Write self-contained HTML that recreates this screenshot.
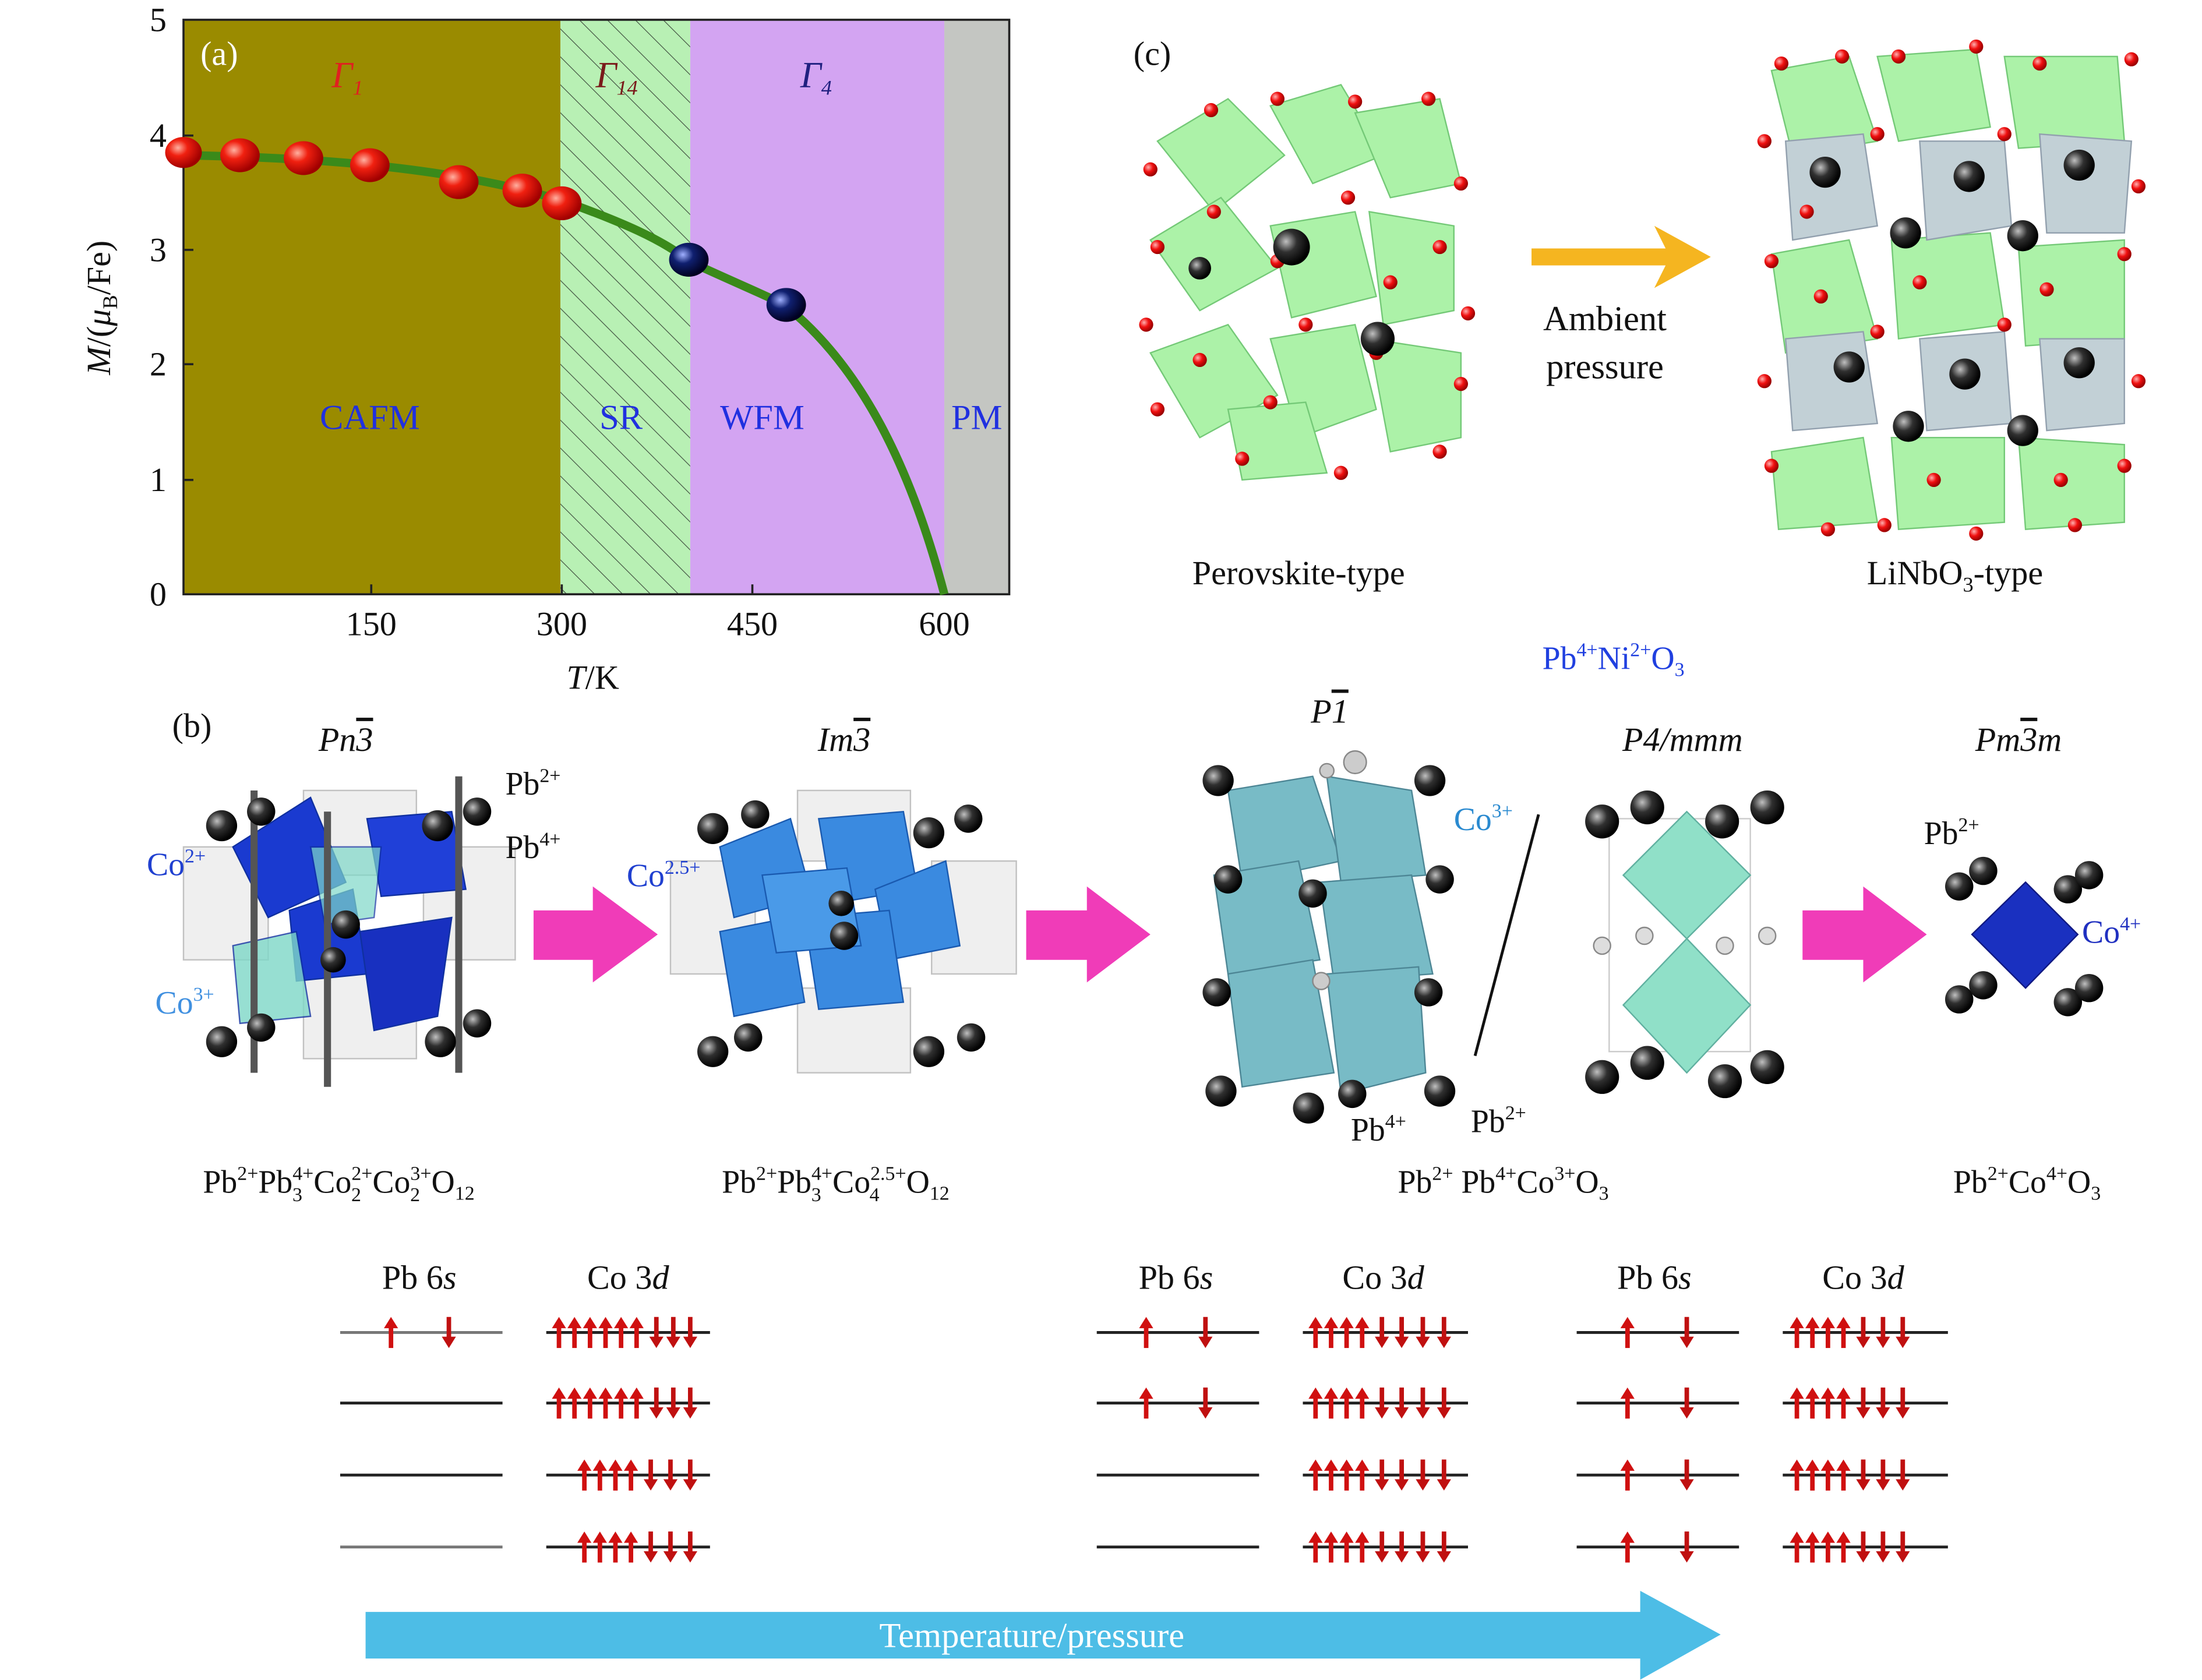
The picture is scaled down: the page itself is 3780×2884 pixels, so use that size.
<!DOCTYPE html>
<html><head><meta charset="utf-8"><style>
html,body{margin:0;padding:0;background:#fff}
svg{display:block}
text{font-family:"Liberation Serif",serif}
.ov{text-decoration:overline}
</style></head><body>
<svg width="3780" height="2884" viewBox="0 0 1560 1190.2" xmlns="http://www.w3.org/2000/svg">
<defs>
<radialGradient id="rb" cx="35%" cy="35%" r="65%"><stop offset="0" stop-color="#ffb0a0"/><stop offset="0.4" stop-color="#f02010"/><stop offset="1" stop-color="#a00000"/></radialGradient>
<radialGradient id="nb" cx="35%" cy="35%" r="65%"><stop offset="0" stop-color="#a0b0ff"/><stop offset="0.4" stop-color="#102070"/><stop offset="1" stop-color="#000020"/></radialGradient>
<radialGradient id="bk" cx="35%" cy="35%" r="65%"><stop offset="0" stop-color="#c0c0c0"/><stop offset="0.45" stop-color="#303030"/><stop offset="1" stop-color="#000"/></radialGradient>
<radialGradient id="ox" cx="35%" cy="35%" r="65%"><stop offset="0" stop-color="#ffb0b0"/><stop offset="0.5" stop-color="#f01010"/><stop offset="1" stop-color="#900"/></radialGradient>
<pattern id="hatch" width="14" height="14" patternUnits="userSpaceOnUse" patternTransform="rotate(-45)"><rect width="14" height="14" fill="#b8f0b4"/><line x1="0" y1="0" x2="0" y2="14" stroke="#405040" stroke-width="1"/></pattern>
<g id="up"><rect x="-1.6" y="-6" width="3.2" height="17" fill="#d01010"/><polygon points="-5,-3 0,-11 5,-3" fill="#d01010"/></g>
<g id="dn"><rect x="-1.6" y="-11" width="3.2" height="17" fill="#c01010"/><polygon points="-5,3 0,11 5,3" fill="#c01010"/></g>
</defs>

<!-- Panel (a) -->
<rect x="130" y="14" width="267" height="407" fill="#9a8b00"/>
<rect x="397" y="14" width="92" height="407" fill="url(#hatch)"/>
<rect x="489" y="14" width="180" height="407" fill="#d3a4f2"/>
<rect x="669" y="14" width="46" height="407" fill="#c4c6c2"/>
<rect x="130" y="14" width="585" height="407" fill="none" stroke="#222" stroke-width="1.5"/>
<g stroke="#222" stroke-width="1.5">
<line x1="130" y1="96" x2="137" y2="96"/><line x1="130" y1="177" x2="137" y2="177"/><line x1="130" y1="258" x2="137" y2="258"/><line x1="130" y1="340" x2="137" y2="340"/>
<line x1="263" y1="421" x2="263" y2="414"/><line x1="398" y1="421" x2="398" y2="414"/><line x1="533" y1="421" x2="533" y2="414"/><line x1="669" y1="421" x2="669" y2="414"/>
</g>
<g font-size="24" fill="#111" text-anchor="end">
<text x="118" y="429">0</text><text x="118" y="348">1</text><text x="118" y="266">2</text><text x="118" y="185">3</text><text x="118" y="104">4</text><text x="118" y="22">5</text>
</g>
<g font-size="24" fill="#111" text-anchor="middle">
<text x="263" y="450">150</text><text x="398" y="450">300</text><text x="533" y="450">450</text><text x="669" y="450">600</text>
<text x="420" y="488"><tspan font-style="italic">T</tspan>/K</text>
</g>
<text transform="translate(78,218) rotate(-90)" font-size="24" text-anchor="middle" fill="#111"><tspan font-style="italic">M</tspan>/(<tspan font-style="italic">μ</tspan><tspan font-size="15" dy="5">B</tspan><tspan dy="-5">/Fe)</tspan></text>
<path d="M130,110 C250,112 330,122 398,142 C440,157 470,170 488,185 C520,200 545,210 557,217 C610,260 645,330 669,421" fill="none" stroke="#3a8a1a" stroke-width="6"/>
<g fill="url(#rb)">
<ellipse cx="130" cy="108" rx="13" ry="11"/><ellipse cx="170" cy="110" rx="14" ry="12"/><ellipse cx="215" cy="112" rx="14" ry="12"/><ellipse cx="262" cy="117" rx="14" ry="12"/><ellipse cx="325" cy="129" rx="14" ry="12"/><ellipse cx="370" cy="135" rx="14" ry="12"/><ellipse cx="398" cy="144" rx="14" ry="12"/>
</g>
<g fill="url(#nb)"><ellipse cx="488" cy="184" rx="14" ry="12"/><ellipse cx="557" cy="216" rx="14" ry="12"/></g>
<text x="142" y="46" font-size="24" fill="#fff">(a)</text>
<text x="235" y="62" font-size="26" font-style="italic" fill="#e02020">Γ<tspan font-size="15" dy="5">1</tspan></text>
<text x="422" y="62" font-size="26" font-style="italic" fill="#7a1a1a">Γ<tspan font-size="15" dy="5">14</tspan></text>
<text x="567" y="62" font-size="26" font-style="italic" fill="#202080">Γ<tspan font-size="15" dy="5">4</tspan></text>
<g font-size="25" fill="#2030e0" text-anchor="middle">
<text x="262" y="304">CAFM</text><text x="440" y="304">SR</text><text x="540" y="304">WFM</text><text x="692" y="304">PM</text>
</g>

<!-- Panel (c) -->
<text x="803" y="46" font-size="24" fill="#111">(c)</text>
<g opacity="0.85">
<g fill="#9ef09a" stroke="#5cc060" stroke-width="1">
<polygon points="820,100 870,70 910,110 860,150"/><polygon points="900,75 950,60 980,110 930,130"/><polygon points="960,80 1020,70 1035,130 985,140"/>
<polygon points="815,170 865,140 905,190 850,220"/><polygon points="900,160 960,150 975,210 915,225"/><polygon points="970,150 1030,160 1030,220 980,230"/>
<polygon points="815,250 870,230 905,280 850,310"/><polygon points="900,240 960,230 975,290 920,310"/><polygon points="970,240 1035,250 1035,310 985,320"/>
<polygon points="870,290 925,285 940,335 880,340"/>
</g></g>
<g fill="url(#ox)">
<circle cx="815" cy="120" r="5"/><circle cx="858" cy="78" r="5"/><circle cx="905" cy="70" r="5"/><circle cx="960" cy="72" r="5"/><circle cx="1012" cy="70" r="5"/><circle cx="1035" cy="130" r="5"/><circle cx="1020" cy="175" r="5"/><circle cx="1040" cy="222" r="5"/><circle cx="1035" cy="272" r="5"/><circle cx="1020" cy="320" r="5"/><circle cx="950" cy="335" r="5"/><circle cx="880" cy="325" r="5"/><circle cx="820" cy="290" r="5"/><circle cx="812" cy="230" r="5"/><circle cx="820" cy="175" r="5"/><circle cx="860" cy="150" r="5"/><circle cx="905" cy="185" r="5"/><circle cx="925" cy="230" r="5"/><circle cx="975" cy="250" r="5"/><circle cx="900" cy="285" r="5"/><circle cx="955" cy="140" r="5"/><circle cx="985" cy="200" r="5"/><circle cx="850" cy="255" r="5"/>
</g>
<circle cx="915" cy="175" r="13" fill="url(#bk)"/><circle cx="976" cy="240" r="12" fill="url(#bk)"/><circle cx="850" cy="190" r="8" fill="url(#bk)"/>
<polygon points="1085,176 1180,176 1172,160 1212,182 1172,204 1180,188 1085,188" fill="#f5b520"/>
<text x="1137" y="234" font-size="25" text-anchor="middle" fill="#111">Ambient</text>
<text x="1137" y="268" font-size="25" text-anchor="middle" fill="#111">pressure</text>
<g opacity="0.85" stroke-width="1">
<g fill="#9ef09a" stroke="#5cc060">
<polygon points="1255,50 1310,40 1330,100 1270,110"/><polygon points="1330,40 1400,35 1410,90 1345,100"/><polygon points="1420,40 1500,40 1505,100 1430,105"/>
<polygon points="1255,180 1310,170 1330,240 1265,250"/><polygon points="1340,170 1410,165 1420,230 1345,240"/><polygon points="1430,175 1505,170 1505,240 1435,245"/>
<polygon points="1255,320 1320,310 1330,370 1260,375"/><polygon points="1340,310 1420,310 1420,370 1345,375"/><polygon points="1430,310 1505,315 1505,370 1435,375"/>
</g>
<g fill="#b8c8d0" stroke="#8090a0">
<polygon points="1265,100 1320,95 1330,160 1270,170"/><polygon points="1360,100 1420,100 1425,160 1365,170"/><polygon points="1445,95 1510,100 1505,165 1450,165"/>
<polygon points="1265,240 1320,235 1330,300 1270,305"/><polygon points="1360,240 1420,235 1425,300 1365,305"/><polygon points="1445,240 1505,240 1505,300 1450,305"/>
</g></g>
<g fill="url(#bk)">
<circle cx="1293" cy="122" r="11"/><circle cx="1395" cy="125" r="11"/><circle cx="1473" cy="117" r="11"/><circle cx="1350" cy="165" r="11"/><circle cx="1433" cy="167" r="11"/><circle cx="1310" cy="260" r="11"/><circle cx="1392" cy="265" r="11"/><circle cx="1473" cy="257" r="11"/><circle cx="1352" cy="302" r="11"/><circle cx="1433" cy="305" r="11"/>
</g>
<g fill="url(#ox)">
<circle cx="1262" cy="45" r="5"/><circle cx="1305" cy="40" r="5"/><circle cx="1345" cy="40" r="5"/><circle cx="1400" cy="33" r="5"/><circle cx="1445" cy="45" r="5"/><circle cx="1510" cy="42" r="5"/><circle cx="1515" cy="132" r="5"/><circle cx="1505" cy="180" r="5"/><circle cx="1515" cy="270" r="5"/><circle cx="1505" cy="330" r="5"/><circle cx="1470" cy="372" r="5"/><circle cx="1400" cy="378" r="5"/><circle cx="1335" cy="372" r="5"/><circle cx="1295" cy="375" r="5"/><circle cx="1255" cy="330" r="5"/><circle cx="1250" cy="270" r="5"/><circle cx="1255" cy="185" r="5"/><circle cx="1250" cy="100" r="5"/><circle cx="1330" cy="95" r="5"/><circle cx="1420" cy="95" r="5"/><circle cx="1330" cy="235" r="5"/><circle cx="1420" cy="230" r="5"/><circle cx="1360" cy="200" r="5"/><circle cx="1450" cy="205" r="5"/><circle cx="1290" cy="210" r="5"/><circle cx="1370" cy="340" r="5"/><circle cx="1460" cy="340" r="5"/><circle cx="1280" cy="150" r="5"/>
</g>
<text x="920" y="414" font-size="24" text-anchor="middle" fill="#111">Perovskite-type</text>
<text x="1385" y="414" font-size="24" text-anchor="middle" fill="#111">LiNbO<tspan font-size="15" dy="5">3</tspan><tspan dy="-5">-type</tspan></text>

<!-- Panel (b) -->
<text x="1143" y="474" font-size="23" text-anchor="middle" fill="#2040e0">Pb<tspan font-size="14" dy="-9">4+</tspan><tspan dy="9">Ni</tspan><tspan font-size="14" dy="-9">2+</tspan><tspan dy="9">O</tspan><tspan font-size="14" dy="5">3</tspan></text>
<text x="122" y="522" font-size="24" fill="#111">(b)</text>
<g font-size="24" font-style="italic" fill="#111" text-anchor="middle">
<text x="245" y="532">Pn<tspan class="ov">3</tspan></text><text x="598" y="532">Im<tspan class="ov">3</tspan></text><text x="942" y="512">P<tspan class="ov">1</tspan></text><text x="1192" y="532">P4/mmm</text><text x="1430" y="532">Pm<tspan class="ov">3</tspan>m</text>
</g>
<!-- structure 1 -->
<g stroke="#bbb" fill="#eee" opacity="0.9">
<rect x="130" y="600" width="60" height="80"/><rect x="300" y="600" width="65" height="80"/><rect x="215" y="560" width="80" height="60"/><rect x="215" y="690" width="80" height="60"/>
</g>
<g stroke="#1030a0" stroke-width="1">
<polygon points="165,600 220,565 245,625 190,650" fill="#1a3ad0"/><polygon points="260,580 320,575 330,630 270,635" fill="#2040d8"/>
<polygon points="205,645 250,630 260,690 210,695" fill="#1a3ad0"/><polygon points="255,660 320,650 310,720 265,730" fill="#1830c0"/>
<polygon points="165,670 210,660 220,720 170,725" fill="#7ed8c8" opacity="0.8"/><polygon points="220,600 270,600 265,650 230,655" fill="#7ed8c8" opacity="0.7"/>
</g>
<g stroke="#555" stroke-width="5"><line x1="180" y1="560" x2="180" y2="760"/><line x1="325" y1="550" x2="325" y2="760"/><line x1="232" y1="575" x2="232" y2="770"/></g>
<g fill="url(#bk)"><circle cx="157" cy="585" r="11"/><circle cx="185" cy="575" r="10"/><circle cx="310" cy="585" r="11"/><circle cx="338" cy="575" r="10"/><circle cx="157" cy="738" r="11"/><circle cx="185" cy="728" r="10"/><circle cx="312" cy="738" r="11"/><circle cx="338" cy="725" r="10"/><circle cx="245" cy="655" r="10"/><circle cx="236" cy="680" r="9"/></g>
<text x="358" y="563" font-size="23" fill="#111">Pb<tspan font-size="14" dy="-9">2+</tspan></text>
<text x="358" y="608" font-size="23" fill="#111">Pb<tspan font-size="14" dy="-9">4+</tspan></text>
<text x="104" y="620" font-size="23" fill="#2040d0">Co<tspan font-size="14" dy="-9">2+</tspan></text>
<text x="110" y="718" font-size="23" fill="#4090e0">Co<tspan font-size="14" dy="-9">3+</tspan></text>
<polygon points="378,645 420,645 420,628 466,662 420,696 420,680 378,680" fill="#f03cb8"/>
<!-- structure 2 -->
<g stroke="#bbb" fill="#eee" opacity="0.9"><rect x="475" y="610" width="60" height="80"/><rect x="660" y="610" width="60" height="80"/><rect x="565" y="560" width="80" height="50"/><rect x="565" y="700" width="80" height="60"/></g>
<g stroke="#1a5ab0" stroke-width="1" fill="#3a8ae0">
<polygon points="510,600 560,580 575,635 520,650"/><polygon points="580,580 640,575 650,630 590,640"/><polygon points="620,630 670,610 680,670 630,680"/>
<polygon points="510,660 560,650 570,710 520,720"/><polygon points="570,650 630,645 640,710 580,715"/><polygon points="540,620 600,615 610,670 550,675" fill="#4a9ae8"/>
</g>
<g fill="url(#bk)"><circle cx="505" cy="587" r="11"/><circle cx="535" cy="577" r="10"/><circle cx="658" cy="590" r="11"/><circle cx="686" cy="580" r="10"/><circle cx="505" cy="745" r="11"/><circle cx="530" cy="735" r="10"/><circle cx="658" cy="745" r="11"/><circle cx="688" cy="735" r="10"/><circle cx="598" cy="663" r="10"/><circle cx="596" cy="640" r="9"/></g>
<text x="444" y="628" font-size="23" fill="#2040d0">Co<tspan font-size="14" dy="-9">2.5+</tspan></text>
<polygon points="727,645 770,645 770,628 815,662 770,696 770,680 727,680" fill="#f03cb8"/>
<!-- structure 3 -->
<g stroke="#3a7a8a" stroke-width="1" fill="#6ab4c0" opacity="0.9">
<polygon points="870,560 930,550 950,610 880,625"/><polygon points="940,550 1000,560 1010,620 950,625"/>
<polygon points="860,620 920,610 935,680 870,690"/><polygon points="935,625 1000,620 1015,690 945,695"/>
<polygon points="870,690 930,680 945,760 880,770"/><polygon points="940,690 1005,685 1010,760 950,775"/>
</g>
<g fill="url(#bk)"><circle cx="863" cy="553" r="11"/><circle cx="1013" cy="553" r="11"/><circle cx="870" cy="623" r="10"/><circle cx="1020" cy="623" r="10"/><circle cx="930" cy="633" r="10"/><circle cx="862" cy="703" r="10"/><circle cx="1012" cy="703" r="10"/><circle cx="865" cy="773" r="11"/><circle cx="927" cy="785" r="11"/><circle cx="1020" cy="773" r="11"/><circle cx="958" cy="775" r="10"/></g>
<g fill="#ccc" stroke="#888"><circle cx="940" cy="546" r="5"/><circle cx="960" cy="540" r="8"/><circle cx="936" cy="695" r="6"/></g>
<line x1="1090" y1="577" x2="1045" y2="748" stroke="#111" stroke-width="2"/>
<text x="1030" y="588" font-size="23" fill="#2a8ad0">Co<tspan font-size="14" dy="-9">3+</tspan></text>
<text x="957" y="808" font-size="23" fill="#111">Pb<tspan font-size="14" dy="-9">4+</tspan></text>
<text x="1042" y="802" font-size="23" fill="#111">Pb<tspan font-size="14" dy="-9">2+</tspan></text>
<!-- structure 4 -->
<rect x="1140" y="580" width="100" height="165" fill="none" stroke="#ccc"/>
<polygon points="1195,575 1240,620 1195,665 1150,620" fill="#90e0c8" stroke="#60b0a0"/>
<polygon points="1195,665 1240,712 1195,760 1150,712" fill="#90e0c8" stroke="#60b0a0"/>
<g fill="url(#bk)"><circle cx="1135" cy="582" r="12"/><circle cx="1167" cy="572" r="12"/><circle cx="1220" cy="582" r="12"/><circle cx="1252" cy="572" r="12"/><circle cx="1135" cy="763" r="12"/><circle cx="1167" cy="753" r="12"/><circle cx="1222" cy="766" r="12"/><circle cx="1252" cy="756" r="12"/></g>
<g fill="#ddd" stroke="#888"><circle cx="1135" cy="670" r="6"/><circle cx="1165" cy="663" r="6"/><circle cx="1222" cy="670" r="6"/><circle cx="1252" cy="663" r="6"/></g>
<polygon points="1277,645 1320,645 1320,628 1365,662 1320,696 1320,680 1277,680" fill="#f03cb8"/>
<!-- structure 5 -->
<polygon points="1435,625 1472,662 1435,700 1397,662" fill="#1a30c0" stroke="#101880"/>
<g fill="url(#bk)"><circle cx="1388" cy="628" r="10"/><circle cx="1405" cy="617" r="10"/><circle cx="1465" cy="630" r="10"/><circle cx="1480" cy="620" r="10"/><circle cx="1388" cy="708" r="10"/><circle cx="1405" cy="698" r="10"/><circle cx="1465" cy="710" r="10"/><circle cx="1480" cy="700" r="10"/></g>
<text x="1363" y="598" font-size="23" fill="#111">Pb<tspan font-size="14" dy="-9">2+</tspan></text>
<text x="1475" y="668" font-size="23" fill="#2030c0">Co<tspan font-size="14" dy="-9">4+</tspan></text>
<!-- formulas -->
<g font-size="23" fill="#111" text-anchor="middle">
<text x="240" y="845">Pb<tspan font-size="14" dy="-9">2+</tspan><tspan dy="9">Pb</tspan><tspan font-size="14" dy="-9">4+</tspan><tspan font-size="14" dx="-15" dy="15">3</tspan><tspan dx="8" dy="-6">Co</tspan><tspan font-size="14" dy="-9">2+</tspan><tspan font-size="14" dx="-15" dy="15">2</tspan><tspan dx="8" dy="-6">Co</tspan><tspan font-size="14" dy="-9">3+</tspan><tspan font-size="14" dx="-15" dy="15">2</tspan><tspan dx="8" dy="-6">O</tspan><tspan font-size="14" dy="5">12</tspan></text>
<text x="592" y="845">Pb<tspan font-size="14" dy="-9">2+</tspan><tspan dy="9">Pb</tspan><tspan font-size="14" dy="-9">4+</tspan><tspan font-size="14" dx="-15" dy="15">3</tspan><tspan dx="8" dy="-6">Co</tspan><tspan font-size="14" dy="-9">2.5+</tspan><tspan font-size="14" dx="-26" dy="15">4</tspan><tspan dx="19" dy="-6">O</tspan><tspan font-size="14" dy="5">12</tspan></text>
<text x="1065" y="845">Pb<tspan font-size="14" dy="-9">2+</tspan><tspan dy="9"> Pb</tspan><tspan font-size="14" dy="-9">4+</tspan><tspan dy="9">Co</tspan><tspan font-size="14" dy="-9">3+</tspan><tspan dy="9">O</tspan><tspan font-size="14" dy="5">3</tspan></text>
<text x="1436" y="845">Pb<tspan font-size="14" dy="-9">2+</tspan><tspan dy="9">Co</tspan><tspan font-size="14" dy="-9">4+</tspan><tspan dy="9">O</tspan><tspan font-size="14" dy="5">3</tspan></text>
</g>
<!-- energy levels -->
<g font-size="24" fill="#111" text-anchor="middle">
<text x="297" y="913">Pb 6<tspan font-style="italic">s</tspan></text><text x="445" y="913">Co 3<tspan font-style="italic">d</tspan></text>
<text x="833" y="913">Pb 6<tspan font-style="italic">s</tspan></text><text x="980" y="913">Co 3<tspan font-style="italic">d</tspan></text>
<text x="1172" y="913">Pb 6<tspan font-style="italic">s</tspan></text><text x="1320" y="913">Co 3<tspan font-style="italic">d</tspan></text>
</g>
<g stroke="#222" stroke-width="2">
<line x1="241" y1="944" x2="356" y2="944" stroke="#777"/><line x1="241" y1="994" x2="356" y2="994"/><line x1="241" y1="1045" x2="356" y2="1045"/><line x1="241" y1="1096" x2="356" y2="1096" stroke="#777"/>
<line x1="387" y1="944" x2="503" y2="944"/><line x1="387" y1="994" x2="503" y2="994"/><line x1="387" y1="1045" x2="503" y2="1045"/><line x1="387" y1="1096" x2="503" y2="1096"/>
<line x1="777" y1="944" x2="892" y2="944"/><line x1="777" y1="994" x2="892" y2="994"/><line x1="777" y1="1045" x2="892" y2="1045"/><line x1="777" y1="1096" x2="892" y2="1096"/>
<line x1="923" y1="944" x2="1040" y2="944"/><line x1="923" y1="994" x2="1040" y2="994"/><line x1="923" y1="1045" x2="1040" y2="1045"/><line x1="923" y1="1096" x2="1040" y2="1096"/>
<line x1="1117" y1="944" x2="1232" y2="944"/><line x1="1117" y1="994" x2="1232" y2="994"/><line x1="1117" y1="1045" x2="1232" y2="1045"/><line x1="1117" y1="1096" x2="1232" y2="1096"/>
<line x1="1263" y1="944" x2="1380" y2="944"/><line x1="1263" y1="994" x2="1380" y2="994"/><line x1="1263" y1="1045" x2="1380" y2="1045"/><line x1="1263" y1="1096" x2="1380" y2="1096"/>
</g>
<use href="#up" x="277" y="944"/><use href="#dn" x="318" y="944"/>
<g id="c6">
<use href="#up" x="396" y="944"/><use href="#up" x="407" y="944"/><use href="#up" x="418" y="944"/><use href="#up" x="429" y="944"/><use href="#up" x="440" y="944"/><use href="#up" x="451" y="944"/><use href="#dn" x="465" y="944"/><use href="#dn" x="477" y="944"/><use href="#dn" x="489" y="944"/>
</g>
<use href="#c6" y="50"/>
<g id="c4">
<use href="#up" x="414" y="1045"/><use href="#up" x="425" y="1045"/><use href="#up" x="436" y="1045"/><use href="#up" x="447" y="1045"/><use href="#dn" x="461" y="1045"/><use href="#dn" x="475" y="1045"/><use href="#dn" x="489" y="1045"/>
</g>
<use href="#c4" y="51"/>
<g id="p2"><use href="#up" x="812" y="944"/><use href="#dn" x="854" y="944"/></g>
<use href="#p2" y="50"/>
<g id="c7">
<use href="#up" x="932" y="944"/><use href="#up" x="943" y="944"/><use href="#up" x="954" y="944"/><use href="#up" x="965" y="944"/><use href="#dn" x="979" y="944"/><use href="#dn" x="993" y="944"/><use href="#dn" x="1008" y="944"/><use href="#dn" x="1023" y="944"/>
</g>
<use href="#c7" y="50"/><use href="#c7" y="101"/><use href="#c7" y="152"/>
<g id="p3"><use href="#up" x="1153" y="944"/><use href="#dn" x="1195" y="944"/></g>
<use href="#p3" y="50"/><use href="#p3" y="101"/><use href="#p3" y="152"/>
<g id="c8">
<use href="#up" x="1273" y="944"/><use href="#up" x="1284" y="944"/><use href="#up" x="1295" y="944"/><use href="#up" x="1306" y="944"/><use href="#dn" x="1320" y="944"/><use href="#dn" x="1334" y="944"/><use href="#dn" x="1348" y="944"/>
</g>
<use href="#c8" y="50"/><use href="#c8" y="101"/><use href="#c8" y="152"/>
<polygon points="259,1142 1162,1142 1162,1127 1219,1158 1162,1190 1162,1175 259,1175" fill="#4dbde6"/>
<text x="731" y="1167" font-size="25" text-anchor="middle" fill="#fff">Temperature/pressure</text>
</svg>
</body></html>
